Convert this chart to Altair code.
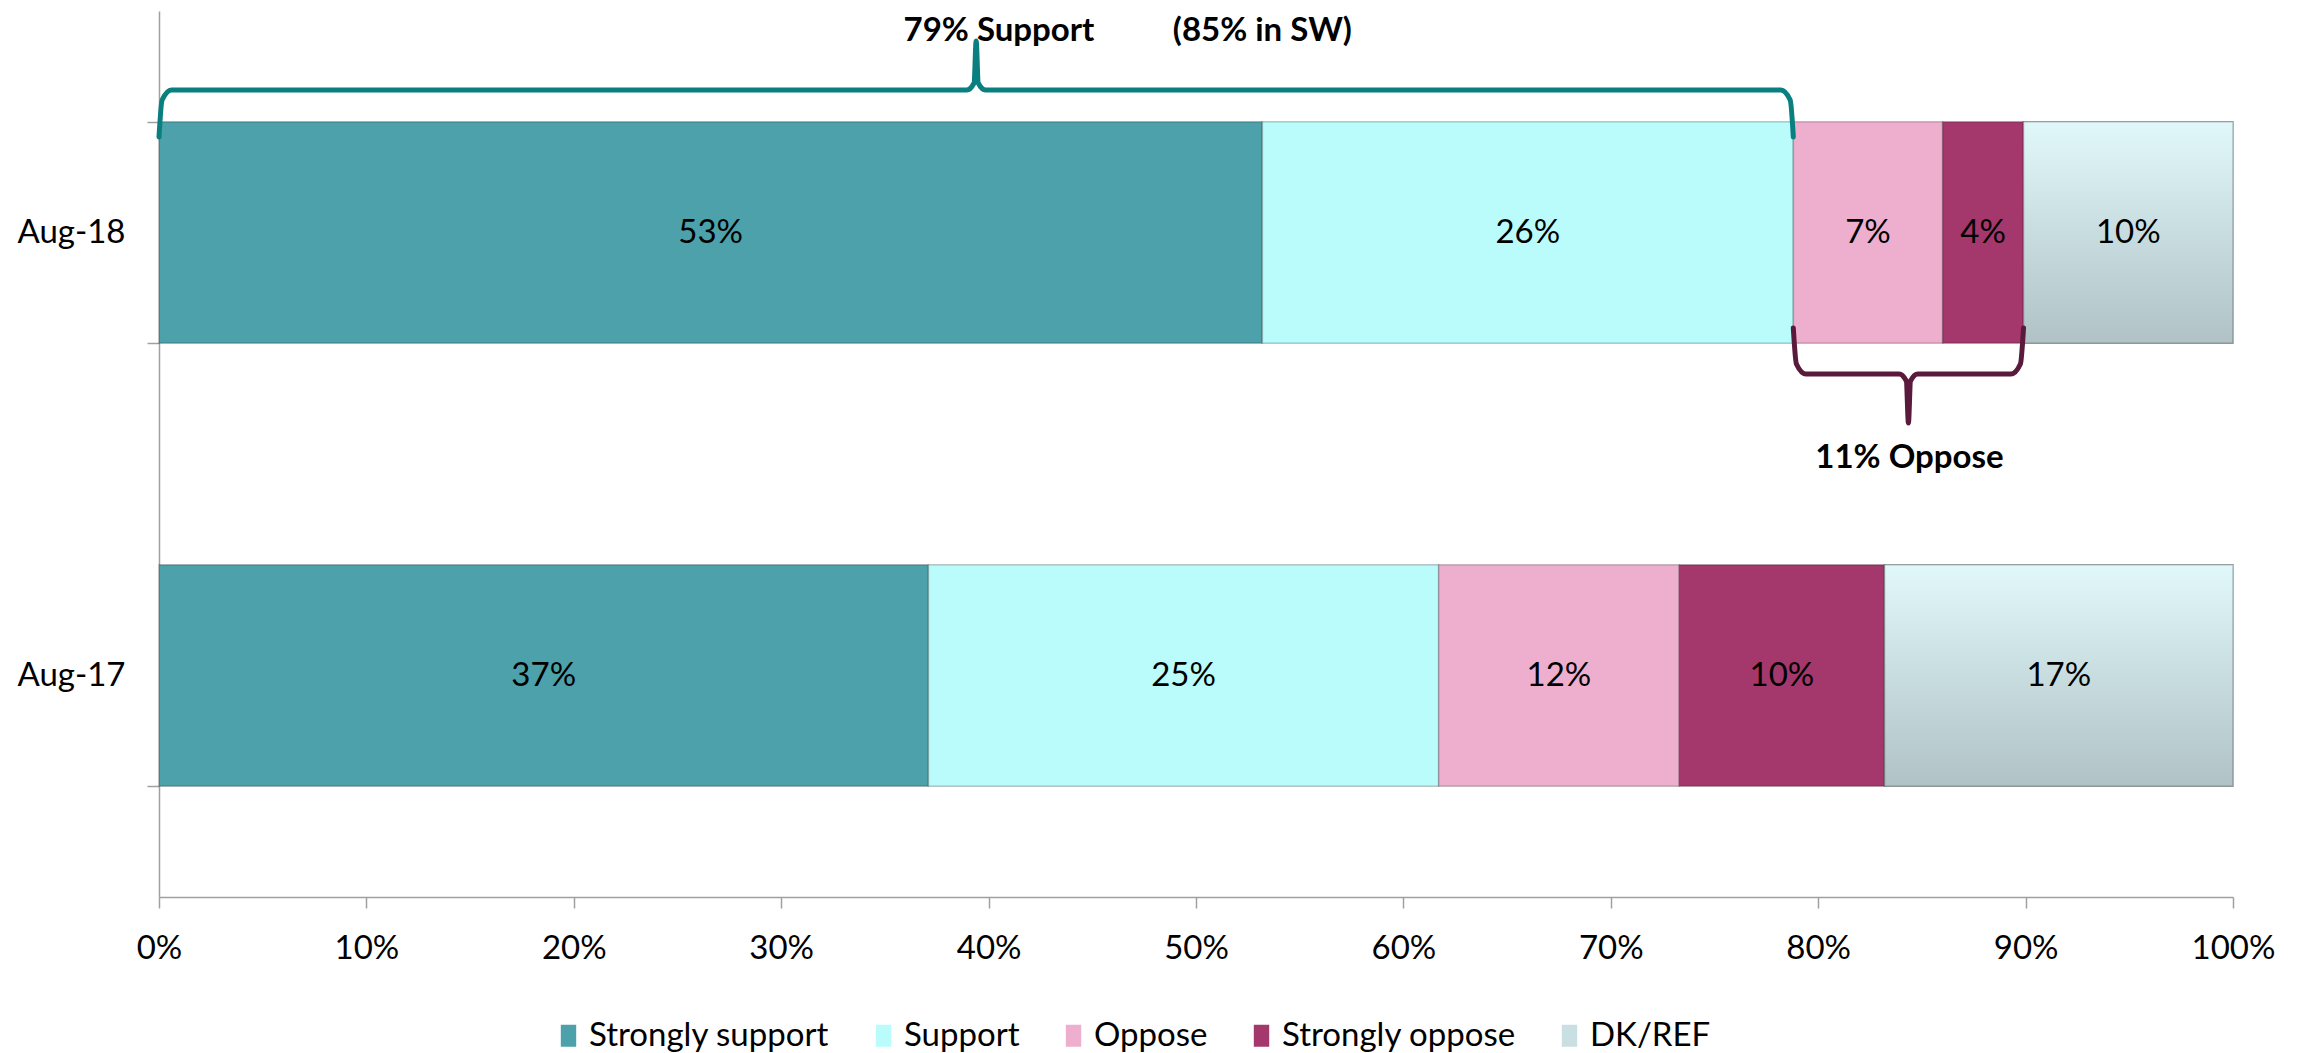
import altair as alt
import pandas as pd

# ---------------- data ----------------
dates = ["Aug-18", "Aug-17"]
categories = ["Strongly support", "Support", "Oppose", "Strongly oppose", "DK/REF"]
aug18 = [53.2, 25.6, 7.2, 3.9, 10.1]
aug17 = [37.1, 24.6, 11.6, 9.9, 16.8]
colors = ["#4DA1AA", "#BAFBFC", "#EDAFCD", "#A4386C", "#CADFE2"]
x_ticks = [0, 10, 20, 30, 40, 50, 60, 70, 80, 90, 100]

support_text = "79% Support"
sw_text = "(85% in SW)"
oppose_text = "11% Oppose"

FONT = "Lato"
FS = 33

rows = []
for d, vals in zip(dates, [aug18, aug17]):
    s = 0.0
    for c, v in zip(categories, vals):
        rows.append(dict(date=d, cat=c, start=s, end=s + v, mid=s + v / 2,
                         label=f"{round(v)}%"))
        s += v
df = pd.DataFrame(rows)

# brace spans derived from the Aug-18 values
sup_end = aug18[0] + aug18[1]
opp_end = sup_end + aug18[2] + aug18[3]


def brace(start, end, base, line, tip):
    c = (start + end) / 2
    xs = [start, start + 0.15, start + 0.6, c - 0.45, c - 0.1, c,
          c + 0.1, c + 0.45, end - 0.6, end - 0.15, end]
    d = 1 if tip < line else -1
    ys = [base, line + d * 10, line, line, line - d * 7, tip,
          line - d * 7, line, line, line + d * 10, base]
    return pd.DataFrame(dict(x=xs, y=ys, i=list(range(len(xs)))))


brace_sup = brace(0.0, sup_end, 126, 79, 30)
brace_opp = brace(sup_end, opp_end, 317, 363, 412)

ann_df = pd.DataFrame(dict(
    x=[40.5, 53.2, 84.4],
    y=[20, 20, 447],
    t=[support_text, sw_text, oppose_text],
))

# ---------------- encodings ----------------
axis_col = "#A0A0A0"
x_axis = alt.Axis(values=x_ticks, labelExpr="datum.value + '%'", grid=False,
                  title=None, domainColor=axis_col, tickColor=axis_col,
                  domainWidth=1.5, tickWidth=1.5, tickSize=11,
                  labelFont=FONT, labelFontSize=FS, labelColor="black",
                  labelPadding=24, labelFlush=False)
x_scale = alt.Scale(domain=[0, 100], nice=False)

y_enc = alt.Y("date:N", sort=dates,
              scale=alt.Scale(paddingInner=0.5, paddingOuter=0.25),
              axis=alt.Axis(title=None, tickBand="extent", tickSize=12,
                            labelPadding=22, labelFont=FONT, labelFontSize=FS,
                            labelColor="black", domainColor=axis_col,
                            tickColor=axis_col, domainWidth=1.5, tickWidth=1.5))

base = alt.Chart(df)

bars = base.mark_bar(stroke="#000000", strokeOpacity=0.22, strokeWidth=1.5).encode(
    x=alt.X("start:Q", scale=x_scale, axis=x_axis),
    x2="end:Q",
    y=y_enc,
    color=alt.Color("cat:N", sort=categories,
                    scale=alt.Scale(domain=categories, range=colors),
                    legend=alt.Legend(orient="none", legendX=393, legendY=1008,
                                      direction="horizontal", columns=5,
                                      title=None, labelFont=FONT,
                                      labelFontSize=FS, labelColor="black",
                                      labelLimit=500,
                                      symbolType="M-0.7,-1H0.7V1H-0.7Z",
                                      symbolSize=484, symbolStrokeWidth=0,
                                      columnPadding=37, labelOffset=4)),
)

dk = base.transform_filter(alt.datum.cat == "DK/REF").mark_bar(
    fill={"gradient": "linear", "x1": 0, "y1": 0, "x2": 0, "y2": 1,
          "stops": [{"offset": 0, "color": "#E1F8FB"},
                    {"offset": 1, "color": "#B0C2C5"}]},
    stroke="#000000", strokeOpacity=0.22, strokeWidth=1.5,
).encode(
    x=alt.X("start:Q", scale=x_scale, axis=x_axis),
    x2="end:Q",
    y=y_enc,
)

labels = base.mark_text(font=FONT, fontSize=FS, color="black").encode(
    x=alt.X("mid:Q", scale=x_scale, axis=x_axis),
    y=y_enc,
    text="label:N",
)

bar_layer = alt.layer(bars, dk, labels)

ann_y = alt.Scale(domain=[0, 886], reverse=True, nice=False, zero=False)


def brace_layer(d, color):
    return alt.Chart(d).mark_line(color=color, strokeWidth=5, interpolate="monotone",
                                  strokeCap="round", strokeJoin="round").encode(
        x=alt.X("x:Q", scale=x_scale, axis=x_axis),
        y=alt.Y("y:Q", scale=ann_y, axis=None),
        order="i:Q",
    )


b1 = brace_layer(brace_sup, "#0A7F80")
b2 = brace_layer(brace_opp, "#5A1A3B")

ann_text = alt.Chart(ann_df).mark_text(font=FONT, fontSize=FS, fontWeight="bold",
                                       color="black").encode(
    x=alt.X("x:Q", scale=x_scale, axis=x_axis),
    y=alt.Y("y:Q", scale=ann_y, axis=None),
    text="t:N",
)

ann_layer = alt.layer(b1, b2, ann_text)

chart = alt.layer(bar_layer, ann_layer).resolve_scale(y="independent").properties(
    width=2074, height=886,
    autosize=alt.AutoSizeParams(type="none"),
    padding={"left": 151, "top": 3, "right": 50, "bottom": 156},
    background="white",
).configure_view(stroke=None)

chart.save("out.html", embed_options={"renderer": "svg", "actions": False})
